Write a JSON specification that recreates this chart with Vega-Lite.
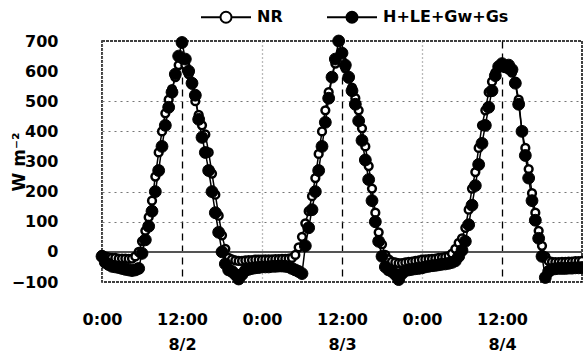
{
 "$schema": "https://vega.github.io/schema/vega-lite/v6.json",
 "width": 480, "height": 241,
 "autosize": {"type": "none"},
 "padding": {"left": 102, "top": 41, "right": 1, "bottom": 76},
 "background": "white",
 "config": {"view": {"stroke": "black", "strokeWidth": 1.5, "strokeDash": [3, 1]}, "font": "DejaVu Sans"},
 "data": {"values": [
  {"h":0,"NR":-10,"H+LE+Gw+Gs":-15},{"h":0.5,"NR":-15,"H+LE+Gw+Gs":-35},{"h":1,"NR":-18,"H+LE+Gw+Gs":-42},{"h":1.5,"NR":-20,"H+LE+Gw+Gs":-48},
  {"h":2,"NR":-20,"H+LE+Gw+Gs":-50},{"h":2.5,"NR":-22,"H+LE+Gw+Gs":-52},{"h":3,"NR":-22,"H+LE+Gw+Gs":-55},{"h":3.5,"NR":-22,"H+LE+Gw+Gs":-58},
  {"h":4,"NR":-23,"H+LE+Gw+Gs":-60},{"h":4.5,"NR":-22,"H+LE+Gw+Gs":-62},{"h":5,"NR":-15,"H+LE+Gw+Gs":-60},{"h":5.5,"NR":0,"H+LE+Gw+Gs":-55},
  {"h":6,"NR":35,"H+LE+Gw+Gs":-5},{"h":6.5,"NR":70,"H+LE+Gw+Gs":40},{"h":7,"NR":115,"H+LE+Gw+Gs":85},{"h":7.5,"NR":170,"H+LE+Gw+Gs":135},
  {"h":8,"NR":250,"H+LE+Gw+Gs":200},{"h":8.5,"NR":330,"H+LE+Gw+Gs":270},{"h":9,"NR":400,"H+LE+Gw+Gs":350},{"h":9.5,"NR":460,"H+LE+Gw+Gs":420},
  {"h":10,"NR":505,"H+LE+Gw+Gs":480},{"h":10.5,"NR":540,"H+LE+Gw+Gs":530},{"h":11,"NR":580,"H+LE+Gw+Gs":590},{"h":11.5,"NR":620,"H+LE+Gw+Gs":650},
  {"h":12,"NR":640,"H+LE+Gw+Gs":695},{"h":12.5,"NR":620,"H+LE+Gw+Gs":640},{"h":13,"NR":590,"H+LE+Gw+Gs":600},{"h":13.5,"NR":555,"H+LE+Gw+Gs":560},
  {"h":14,"NR":500,"H+LE+Gw+Gs":520},{"h":14.5,"NR":455,"H+LE+Gw+Gs":440},{"h":15,"NR":420,"H+LE+Gw+Gs":380},{"h":15.5,"NR":390,"H+LE+Gw+Gs":330},
  {"h":16,"NR":330,"H+LE+Gw+Gs":270},{"h":16.5,"NR":260,"H+LE+Gw+Gs":200},{"h":17,"NR":190,"H+LE+Gw+Gs":130},{"h":17.5,"NR":120,"H+LE+Gw+Gs":65},
  {"h":18,"NR":55,"H+LE+Gw+Gs":0},{"h":18.5,"NR":10,"H+LE+Gw+Gs":-40},{"h":19,"NR":-20,"H+LE+Gw+Gs":-60},{"h":19.5,"NR":-25,"H+LE+Gw+Gs":-65},
  {"h":20,"NR":-28,"H+LE+Gw+Gs":-75},{"h":20.5,"NR":-30,"H+LE+Gw+Gs":-90},{"h":21,"NR":-30,"H+LE+Gw+Gs":-75},{"h":21.5,"NR":-28,"H+LE+Gw+Gs":-62},
  {"h":22,"NR":-27,"H+LE+Gw+Gs":-58},{"h":22.5,"NR":-27,"H+LE+Gw+Gs":-55},{"h":23,"NR":-26,"H+LE+Gw+Gs":-53},{"h":23.5,"NR":-26,"H+LE+Gw+Gs":-52},
  {"h":24,"NR":-26,"H+LE+Gw+Gs":-50},{"h":24.5,"NR":-25,"H+LE+Gw+Gs":-50},{"h":25,"NR":-25,"H+LE+Gw+Gs":-50},{"h":25.5,"NR":-25,"H+LE+Gw+Gs":-48},
  {"h":26,"NR":-24,"H+LE+Gw+Gs":-48},{"h":26.5,"NR":-24,"H+LE+Gw+Gs":-47},{"h":27,"NR":-23,"H+LE+Gw+Gs":-47},{"h":27.5,"NR":-23,"H+LE+Gw+Gs":-48},
  {"h":28,"NR":-22,"H+LE+Gw+Gs":-50},{"h":28.5,"NR":-20,"H+LE+Gw+Gs":-55},{"h":29,"NR":-10,"H+LE+Gw+Gs":-60},{"h":29.5,"NR":15,"H+LE+Gw+Gs":-65},
  {"h":30,"NR":50,"H+LE+Gw+Gs":-72},{"h":30.5,"NR":95,"H+LE+Gw+Gs":20},{"h":31,"NR":135,"H+LE+Gw+Gs":80},{"h":31.5,"NR":185,"H+LE+Gw+Gs":140},
  {"h":32,"NR":245,"H+LE+Gw+Gs":200},{"h":32.5,"NR":325,"H+LE+Gw+Gs":270},{"h":33,"NR":400,"H+LE+Gw+Gs":350},{"h":33.5,"NR":470,"H+LE+Gw+Gs":430},
  {"h":34,"NR":530,"H+LE+Gw+Gs":510},{"h":34.5,"NR":580,"H+LE+Gw+Gs":580},{"h":35,"NR":625,"H+LE+Gw+Gs":640},{"h":35.5,"NR":645,"H+LE+Gw+Gs":700},
  {"h":36,"NR":635,"H+LE+Gw+Gs":660},{"h":36.5,"NR":610,"H+LE+Gw+Gs":620},{"h":37,"NR":575,"H+LE+Gw+Gs":580},{"h":37.5,"NR":545,"H+LE+Gw+Gs":535},
  {"h":38,"NR":510,"H+LE+Gw+Gs":490},{"h":38.5,"NR":470,"H+LE+Gw+Gs":435},{"h":39,"NR":410,"H+LE+Gw+Gs":370},{"h":39.5,"NR":350,"H+LE+Gw+Gs":305},
  {"h":40,"NR":285,"H+LE+Gw+Gs":240},{"h":40.5,"NR":210,"H+LE+Gw+Gs":170},{"h":41,"NR":130,"H+LE+Gw+Gs":100},{"h":41.5,"NR":65,"H+LE+Gw+Gs":35},
  {"h":42,"NR":25,"H+LE+Gw+Gs":-15},{"h":42.5,"NR":-10,"H+LE+Gw+Gs":-50},{"h":43,"NR":-25,"H+LE+Gw+Gs":-60},{"h":43.5,"NR":-32,"H+LE+Gw+Gs":-65},
  {"h":44,"NR":-35,"H+LE+Gw+Gs":-75},{"h":44.5,"NR":-37,"H+LE+Gw+Gs":-92},{"h":45,"NR":-37,"H+LE+Gw+Gs":-72},{"h":45.5,"NR":-35,"H+LE+Gw+Gs":-62},
  {"h":46,"NR":-33,"H+LE+Gw+Gs":-60},{"h":46.5,"NR":-32,"H+LE+Gw+Gs":-58},{"h":47,"NR":-30,"H+LE+Gw+Gs":-56},{"h":47.5,"NR":-28,"H+LE+Gw+Gs":-55},
  {"h":48,"NR":-26,"H+LE+Gw+Gs":-53},{"h":48.5,"NR":-25,"H+LE+Gw+Gs":-50},{"h":49,"NR":-24,"H+LE+Gw+Gs":-48},{"h":49.5,"NR":-23,"H+LE+Gw+Gs":-46},
  {"h":50,"NR":-22,"H+LE+Gw+Gs":-45},{"h":50.5,"NR":-20,"H+LE+Gw+Gs":-43},{"h":51,"NR":-19,"H+LE+Gw+Gs":-41},{"h":51.5,"NR":-17,"H+LE+Gw+Gs":-40},
  {"h":52,"NR":-14,"H+LE+Gw+Gs":-38},{"h":52.5,"NR":-6,"H+LE+Gw+Gs":-35},{"h":53,"NR":10,"H+LE+Gw+Gs":-30},{"h":53.5,"NR":30,"H+LE+Gw+Gs":-15},
  {"h":54,"NR":45,"H+LE+Gw+Gs":5},{"h":54.5,"NR":80,"H+LE+Gw+Gs":35},{"h":55,"NR":140,"H+LE+Gw+Gs":90},{"h":55.5,"NR":210,"H+LE+Gw+Gs":155},
  {"h":56,"NR":265,"H+LE+Gw+Gs":220},{"h":56.5,"NR":345,"H+LE+Gw+Gs":290},{"h":57,"NR":420,"H+LE+Gw+Gs":360},{"h":57.5,"NR":470,"H+LE+Gw+Gs":420},
  {"h":58,"NR":530,"H+LE+Gw+Gs":480},{"h":58.5,"NR":565,"H+LE+Gw+Gs":535},{"h":59,"NR":595,"H+LE+Gw+Gs":585},{"h":59.5,"NR":610,"H+LE+Gw+Gs":615},
  {"h":60,"NR":615,"H+LE+Gw+Gs":625},{"h":60.5,"NR":610,"H+LE+Gw+Gs":615},{"h":61,"NR":605,"H+LE+Gw+Gs":620},{"h":61.5,"NR":595,"H+LE+Gw+Gs":605},
  {"h":62,"NR":565,"H+LE+Gw+Gs":560},{"h":62.5,"NR":505,"H+LE+Gw+Gs":490},{"h":63,"NR":400,"H+LE+Gw+Gs":400},{"h":63.5,"NR":345,"H+LE+Gw+Gs":320},
  {"h":64,"NR":275,"H+LE+Gw+Gs":245},{"h":64.5,"NR":195,"H+LE+Gw+Gs":170},{"h":65,"NR":130,"H+LE+Gw+Gs":105},{"h":65.5,"NR":70,"H+LE+Gw+Gs":45},
  {"h":66,"NR":20,"H+LE+Gw+Gs":-15},{"h":66.5,"NR":-15,"H+LE+Gw+Gs":-85},{"h":67,"NR":-30,"H+LE+Gw+Gs":-65},{"h":67.5,"NR":-33,"H+LE+Gw+Gs":-58},
  {"h":68,"NR":-34,"H+LE+Gw+Gs":-56},{"h":68.5,"NR":-34,"H+LE+Gw+Gs":-55},{"h":69,"NR":-33,"H+LE+Gw+Gs":-55},{"h":69.5,"NR":-33,"H+LE+Gw+Gs":-55},
  {"h":70,"NR":-32,"H+LE+Gw+Gs":-54},{"h":70.5,"NR":-32,"H+LE+Gw+Gs":-54},{"h":71,"NR":-31,"H+LE+Gw+Gs":-53},{"h":71.5,"NR":-31,"H+LE+Gw+Gs":-53},
  {"h":72,"NR":-30,"H+LE+Gw+Gs":-52}
 ]},
 "transform": [{"fold": ["NR", "H+LE+Gw+Gs"], "as": ["series", "value"]}],
 "encoding": {
  "x": {"field": "h", "type": "quantitative", "scale": {"domain": [0, 72], "nice": false, "zero": false},
   "axis": {"values": [0, 12, 24, 36, 48, 60], "title": null, "domain": false, "ticks": false,
    "labelExpr": "datum.value % 24 === 0 ? '0:00' : ['12:00', '8/' + (2 + floor(datum.value / 24))]",
    "labelFont": "DejaVu Sans", "labelFontWeight": "bold", "labelFontSize": 16, "labelColor": "black",
    "labelPadding": 29, "labelBaseline": "top", "labelLineHeight": 25, "labelFlush": false, "labelOverlap": false,
    "grid": true, "gridWidth": 1.3,
    "gridDash": {"condition": {"test": "datum.value % 24 === 0", "value": [1, 3]}, "value": [7, 5]},
    "gridColor": {"condition": {"test": "datum.value % 24 === 0", "value": "#777777"}, "value": "black"}}},
  "y": {"field": "value", "type": "quantitative", "scale": {"domain": [-100, 700], "nice": false},
   "axis": {"values": [-100, 0, 100, 200, 300, 400, 500, 600, 700], "domain": false,
    "ticks": false, "labelPadding": 44, "labelOverlap": false,
    "labelFont": "DejaVu Sans", "labelFontWeight": "bold", "labelFontSize": 16, "labelColor": "black",
    "title": "W m⁻²", "titleFont": "DejaVu Sans", "titleFontWeight": "bold", "titleFontSize": 17, "titleColor": "black", "titleX": -74,
    "grid": true, "gridDash": [2, 4], "gridWidth": 1.2,
    "gridColor": {"condition": {"test": "datum.value === 300 || datum.value === 600 || datum.value === -100 || datum.value === 700 || datum.value === 0", "value": "transparent"}, "value": "#777777"}}}
 },
 "layer": [
  {"mark": {"type": "rule", "color": "#555555", "strokeWidth": 1.5},
   "encoding": {"y": {"datum": 0}, "x": null}},
  {"mark": {"type": "line", "color": "black", "strokeWidth": 1.5},
   "encoding": {"detail": {"field": "series"}}},
  {"transform": [{"filter": "datum.series === 'NR'"}],
   "mark": {"type": "point", "filled": true, "stroke": "black", "strokeWidth": 2.5, "size": 60, "opacity": 1},
   "encoding": {
    "fill": {"field": "series", "type": "nominal", "scale": {"domain": ["NR", "H+LE+Gw+Gs"], "range": ["white", "black"]},
     "legend": {"title": null, "orient": "none", "legendX": 98, "legendY": -50, "direction": "horizontal",
      "symbolType": "M-1,0H-0.22M0.22,0H1M-0.22,0A0.22,0.22,0,1,1,0.22,0A0.22,0.22,0,1,1,-0.22,0Z",
      "symbolSize": 2500, "symbolStrokeColor": "black", "symbolStrokeWidth": 2, "symbolOpacity": 1,
      "labelFont": "DejaVu Sans", "labelFontWeight": "bold", "labelFontSize": 16, "labelColor": "black",
      "labelOffset": 5, "columnPadding": 40}}}},
  {"transform": [{"filter": "datum.series !== 'NR'"}],
   "mark": {"type": "point", "filled": true, "stroke": "black", "strokeWidth": 1, "size": 140, "opacity": 1},
   "encoding": {
    "fill": {"field": "series", "type": "nominal", "scale": {"domain": ["NR", "H+LE+Gw+Gs"], "range": ["white", "black"]}}}}
 ]
}
